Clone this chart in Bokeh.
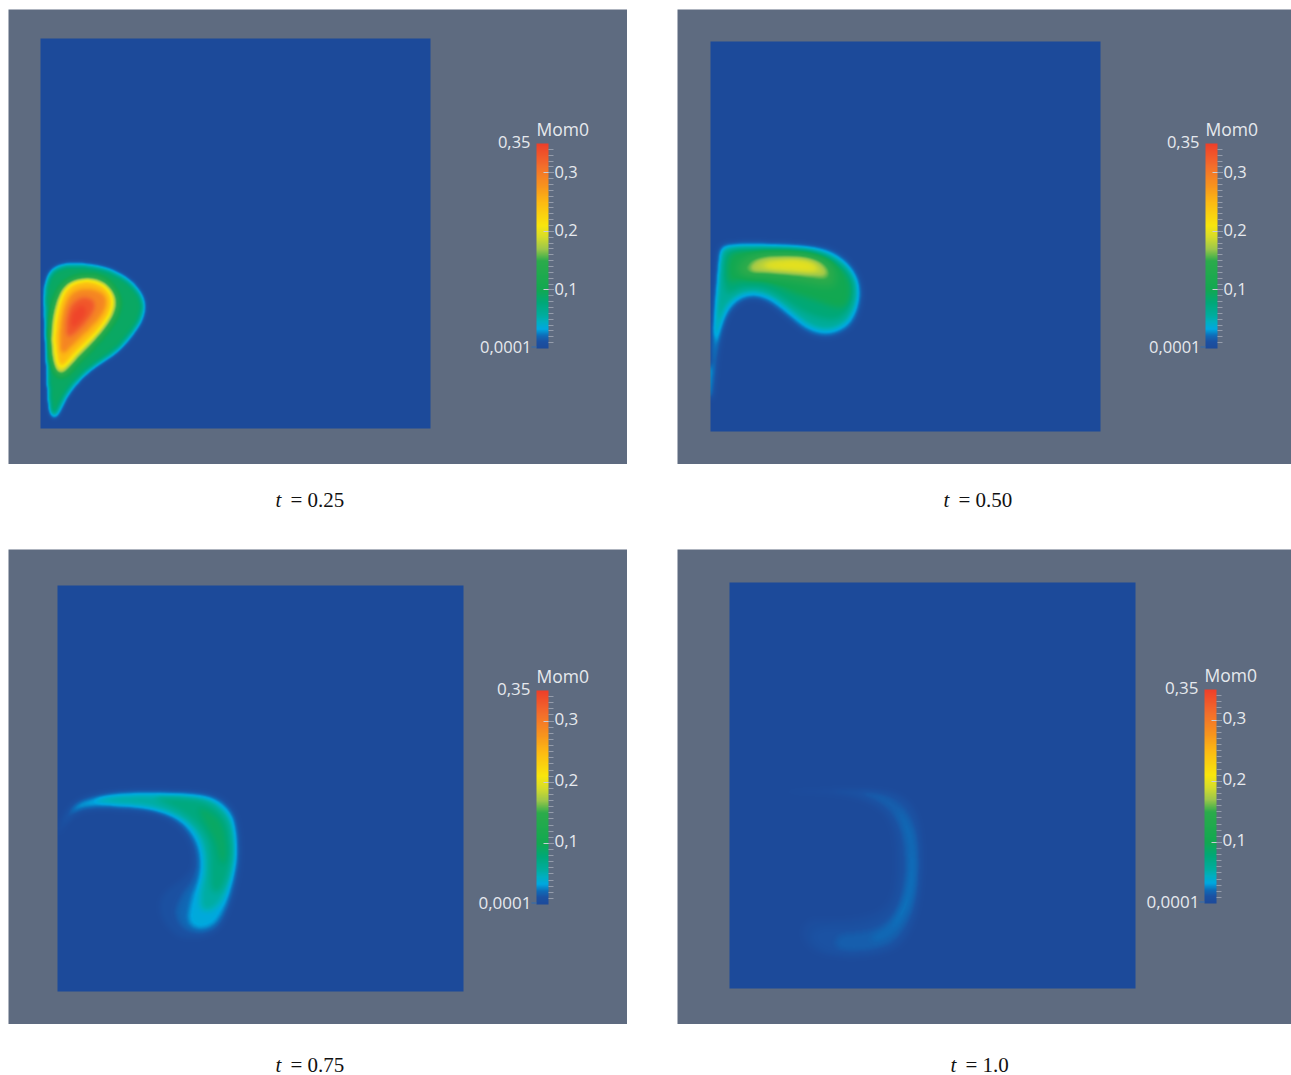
import numpy as np
from bokeh.embed import file_html
from bokeh.resources import INLINE
from bokeh.layouts import column, row
from bokeh.models import BoxAnnotation, ColorBar, FixedTicker, Label, LinearColorMapper, Range1d, Spacer
from bokeh.plotting import figure

# ---------- data ----------
TIMES = ["0.25", "0.50", "0.75", "1.0"]
TITLE = "Mom0"
VMIN, VMAX = 0.0001, 0.35
MAJOR = [0.1, 0.2, 0.3]
MAJOR_LABELS = ["0,1", "0,2", "0,3"]
MIN_LABEL, MAX_LABEL = "0,0001", "0,35"

COLOR_VALUES = [0, .012, .022, .033, .045, .056, .078, .10, .15, .17, .19, .21, .25, .277, .31, .35]
COLOR_STOPS = ["#1c4a9a", "#1b52a3", "#0f6cb8", "#00a8e0", "#00afc0", "#00ad9f", "#00a878", "#12a851",
               "#2cab4b", "#9cc74a", "#d5dc2b", "#f8e60c", "#fdb913", "#f7941d", "#f36f2b", "#ee3f2a"]

# Isolines of Mom0: levels, outlines in digitiser units,
# and the calibration (x of wall, y of floor, units per side of the unit square).
P1_CAL = (30, 537, 1172)
P1_LEVELS = [.04, .09, .15, .20, .25, .29, .33, .345]
P1_ISO = [
 [(38,130),(42,100),(55,62),(85,42),(130,37),(190,42),(250,57),(302,88),(338,130),(349,170),(338,217),(303,267),(262,312),(192,357),(152,392),(112,442),(87,497),(70,511),(56,497),(50,430),(45,300),(40,200)],
 [(46,130),(50,105),(62,72),(90,53),(130,48),(190,53),(245,68),(295,98),(327,135),(338,170),(327,212),(293,260),(255,303),(185,348),(143,383),(103,433),(80,485),(70,495),(62,485),(56,430),(51,300),(47,200)],
 [(170,72),(228,86),(270,140),(263,198),(214,266),(152,328),(92,395),(60,348),(52,260),(64,162),(98,92)],
 [(170,84),(220,97),(256,140),(250,192),(204,256),(144,316),(90,378),(70,342),(62,260),(75,168),(106,100)],
 [(168,92),(220,108),(245,145),(238,190),(195,250),(135,305),(92,358),(80,325),(74,255),(86,170),(112,110)],
 [(165,115),(215,128),(230,155),(215,195),(170,245),(125,285),(92,320),(88,265),(98,185),(120,132)],
 [(155,140),(190,150),(195,175),(170,215),(130,255),(108,265),(108,210),(120,165)],
 [(150,165),(170,175),(160,205),(130,235),(120,225),(125,190)],
]

P2_CAL = (30, 603, 1170)
P2_LEVELS = [.03, .06, .08, .10, .125, .15, .18, .20]
P2_ISO = [
 [(56,56),(65,42),(100,37),(200,37),(300,42),(362,49),(413,67),(453,103),(476,140),(484,180),(479,232),(459,279),(428,306),(390,319),(345,316),(308,299),(268,266),(223,229),(190,209),(155,202),(120,212),(92,239),(72,279),(57,334),(47,404),(38,490),(31,530),(31,400),(35,320),(42,220),(50,120)],
 [(62,62),(72,52),(100,48),(200,48),(300,52),(355,60),(402,78),(442,112),(463,145),(470,180),(465,225),(446,265),(418,288),(388,298),(350,295),(318,280),(278,248),(232,210),(195,190),(155,182),(115,192),(82,220),(62,262),(50,310),(45,350),(42,300),(46,220),(56,120)],
 [(80,55),(200,55),(300,58),(352,68),(402,88),(442,122),(460,170),(452,222),(425,262),(388,268),(345,258),(305,240),(260,212),(210,178),(155,168),(110,175),(80,195),(68,150),(70,90)],
 [(100,60),(200,60),(300,62),(350,75),(400,95),(440,130),(455,175),(445,220),(420,235),(385,225),(340,208),(295,195),(240,170),(190,150),(150,145),(110,150),(88,160),(78,130),(84,80)],
 [(100,115),(120,82),(185,62),(270,60),(350,68),(395,92),(415,135),(405,180),(330,168),(270,155),(200,148),(130,145)],
 [(115,125),(130,88),(185,70),(270,66),(345,75),(385,98),(402,138),(385,165),(320,150),(270,142),(200,135),(140,135)],
 [(145,110),(175,80),(270,75),(340,84),(375,108),(385,140),(330,135),(260,130),(190,125),(150,125)],
 [(185,100),(270,85),(335,95),(355,120),(330,125),(270,120),(195,115)],
]

P3_CAL = (21, 636, 1220)
P3_LEVELS = [.01, .02, .035, .055, .075, .09]
P3_ISO = [
 [(25,140),(35,115),(60,72),(110,46),(200,31),(300,29),(440,32),(508,46),(550,83),(568,130),(575,230),(560,330),(532,405),(505,455),(450,478),(390,478),(345,440),(322,385),(340,335),(395,300),(425,270),(430,225),(410,170),(365,125),(300,100),(200,92),(110,92),(70,109),(45,134),(25,170)],
 [(35,130),(65,80),(115,52),(200,37),(300,35),(440,39),(503,52),(545,88),(562,135),(568,230),(552,325),(530,400),(500,450),(450,465),(395,450),(370,400),(395,340),(430,300),(442,240),(425,175),(375,118),(300,92),(200,84),(110,84),(70,98),(45,127)],
 [(55,100),(75,72),(120,55),(200,42),(300,39),(440,43),(498,57),(540,93),(556,140),(562,230),(545,320),(522,390),(490,440),(440,450),(410,425),(425,350),(447,300),(452,240),(435,175),(385,115),(300,86),(200,78),(120,78),(80,88)],
 [(115,63),(200,47),(300,44),(440,49),(493,65),(533,103),(549,145),(555,230),(538,310),(512,370),(480,395),(450,390),(450,335),(463,285),(465,235),(450,170),(400,115),(300,80),(200,72)],
 [(300,50),(440,57),(488,77),(525,113),(540,150),(545,230),(530,295),(510,335),(485,340),(478,285),(482,230),(470,170),(420,110),(350,72)],
 [(440,78),(493,103),(520,140),(530,200),(527,255),(507,245),(497,185),(460,125)],
]

P4_CAL = (-33, 642, 1219)
P4_LEVELS = [.006, .012, .017, .021, .024]
P4_ISO = [
 [(100,52),(250,42),(380,40),(470,50),(525,90),(550,180),(550,320),(532,430),(492,515),(420,545),(320,555),(220,538),(178,490),(195,430),(280,435),(370,425),(430,400),(458,350),(465,260),(458,170),(425,110),(350,72),(250,58)],
 [(250,45),(380,44),(465,56),(518,100),(543,180),(543,320),(525,425),(482,505),(420,535),(320,545),(240,530),(205,490),(230,455),(300,458),(380,450),(445,418),(475,350),(482,260),(472,165),(432,98),(350,62)],
 [(340,48),(400,50),(458,70),(508,118),(535,190),(537,320),(520,415),(472,495),(420,522),(340,532),(280,522),(290,480),(340,476),(400,468),(455,435),(490,360),(497,260),(484,165),(438,90)],
 [(465,88),(505,140),(528,200),(530,320),(510,412),(462,482),(405,505),(385,490),(438,456),(478,400),(500,320),(505,240),(490,160)],
 [(510,200),(525,300),(508,385),(478,445),(450,465),(475,410),(500,345),(508,280)],
]

# ---------- styling / layout ----------
GREY = "#5e6b80"
TEXT = "#e6e9ee"
SANS = "Open Sans"
SERIF = "Liberation Serif"


def hex_rgb(c):
    return [int(c[i:i + 2], 16) for i in (1, 3, 5)]


def make_palette(n=512):
    rgb = np.array([hex_rgb(c) for c in COLOR_STOPS], float)
    v = np.linspace(VMIN, VMAX, n)
    out = np.stack([np.interp(v, COLOR_VALUES, rgb[:, k]) for k in range(3)], axis=1)
    return ["#%02x%02x%02x" % tuple(int(round(x)) for x in c) for c in out]


PALETTE = make_palette()


def chaikin(pts, times=3):
    p = np.array(pts, float)
    for _ in range(times):
        q = np.roll(p, -1, axis=0)
        p = np.stack([0.75 * p + 0.25 * q, 0.25 * p + 0.75 * q], axis=1).reshape(-1, 2)
    return p


def fill_mask(pts, n):
    m = np.zeros((n, n), bool)
    x0, y0 = pts[:, 0], pts[:, 1]
    x1, y1 = np.roll(x0, -1), np.roll(y0, -1)
    for j in range(n):
        yc = (j + 0.5) / n
        hit = (y0 <= yc) != (y1 <= yc)
        if not hit.any():
            continue
        xi = np.sort(x0[hit] + (yc - y0[hit]) / (y1[hit] - y0[hit]) * (x1[hit] - x0[hit]))
        for a, b in zip(xi[0::2], xi[1::2]):
            m[j, max(0, int(np.ceil(a * n - 0.5))):max(0, int(np.ceil(b * n - 0.5)))] = True
    return m


def blur(a, sigma):
    r = int(3 * sigma) + 1
    k = np.exp(-0.5 * (np.arange(-r, r + 1) / sigma) ** 2)
    k /= k.sum()
    f = lambda v: np.convolve(np.pad(v, r, mode="edge"), k, "valid")
    return np.apply_along_axis(f, 0, np.apply_along_axis(f, 1, a))


def field(iso, levels, cal, n, sigma):
    """Shade the unit square (row 0 at the bottom) from the digitised isolines."""
    x0, y0, span = cal
    a = np.zeros((n, n))
    prev = 0.0
    for poly, lv in zip(iso, levels):
        p = chaikin(poly)
        p = np.column_stack([(p[:, 0] - x0) / span, (y0 - p[:, 1]) / span])
        a += (lv - prev) * fill_mask(p, n)
        prev = lv
    return blur(a, sigma).astype(np.float32)


def panel(iso, levels, cal, sigma, W, H, sq, bar, fs, label_up):
    left, top, size = sq
    bx, btop, bh = bar
    p = figure(width=W, height=H, output_backend="svg", toolbar_location=None,
               x_axis_location=None, y_axis_location=None, min_border=0,
               x_range=Range1d(-left / size, (W - left) / size),
               y_range=Range1d((top + size - H) / size, (top + size) / size),
               background_fill_color=GREY, border_fill_color=GREY, outline_line_color=None)
    p.grid.visible = False
    mapper = LinearColorMapper(palette=PALETTE, low=VMIN, high=VMAX)
    p.image(image=[field(iso, levels, cal, size, sigma)], x=0, y=0, dw=1, dh=1, color_mapper=mapper)
    minor = [round(0.01 * i, 2) for i in range(1, 35)]
    cb = ColorBar(color_mapper=mapper, width=12, height=bh, location=(bx, H - btop - bh),
                  padding=0, margin=0, background_fill_color=None, border_line_color=None, bar_line_color=None,
                  ticker=FixedTicker(ticks=MAJOR, minor_ticks=minor),
                  major_label_overrides={v: "" for v in MAJOR},
                  major_label_text_font_size="1px", label_standoff=0,
                  major_tick_in=5, major_tick_out=5, major_tick_line_color="#c9ced6",
                  minor_tick_in=0, minor_tick_out=5, minor_tick_line_color="#949cab")
    p.add_layout(cb, "center")
    common = dict(x_units="screen", y_units="screen", text_baseline="middle", text_color=TEXT, text_font=SANS)
    for v, txt in zip(MAJOR, MAJOR_LABELS):
        yy = H - btop - bh + bh * (v - VMIN) / (VMAX - VMIN) + label_up
        p.add_layout(Label(x=bx + 18, y=yy, text=txt, text_font_size=f"{fs}px", **common))
    p.add_layout(Label(x=bx, y=H - btop + 14.5, text=TITLE, text_font_size="17.5px", **common))
    p.add_layout(Label(x=bx - 6, y=H - btop + 2, text=MAX_LABEL, text_align="right", text_font_size=f"{fs}px", **common))
    p.add_layout(Label(x=bx - 5, y=H - btop - bh + 2, text=MIN_LABEL, text_align="right", text_font_size=f"{fs}px", **common))
    p.add_layout(BoxAnnotation(left=bx - 5, right=bx, top=H - btop - bh + 2, bottom=H - btop - bh + 1,
                               left_units="screen", right_units="screen", top_units="screen", bottom_units="screen",
                               fill_color="#2f6db0", fill_alpha=1, line_color=None))
    return p


def caption(t, W, H, tx, ty):
    p = figure(width=W, height=H, output_backend="svg", toolbar_location=None,
               x_axis_location=None, y_axis_location=None, min_border=0,
               x_range=Range1d(0, W), y_range=Range1d(0, H),
               background_fill_color="white", border_fill_color="white", outline_line_color=None)
    p.grid.visible = False
    p.add_layout(Label(x=tx, y=H - ty, x_units="screen", y_units="screen", text="t", text_baseline="middle",
                       text_font=SERIF, text_font_style="italic", text_font_size="21px", text_color="#111111"))
    p.add_layout(Label(x=tx + 15, y=H - ty, x_units="screen", y_units="screen", text="= " + t, text_baseline="middle",
                       text_font=SERIF, text_font_size="21px", text_color="#111111"))
    return p


WL, WR, GAP = 619, 614, 50
p1 = panel(P1_ISO, P1_LEVELS, P1_CAL, 2.2, WL, 455, (32, 29, 390), (528, 134, 205), 16.5, 1)
p2 = panel(P2_ISO, P2_LEVELS, P2_CAL, 3.2, WR, 455, (33, 32, 390), (528, 134, 205), 16.5, 1)
p3 = panel(P3_ISO, P3_LEVELS, P3_CAL, 3.0, WL, 475, (49, 36, 406), (528, 141, 214), 17, 2)
p4 = panel(P4_ISO, P4_LEVELS, P4_CAL, 3.0, WR, 475, (52, 33, 406), (527, 140, 214), 17, 2)

c1 = caption(TIMES[0], WL, 85, 267, 35)
c2 = caption(TIMES[1], WR, 85, 266, 35)
c3 = caption(TIMES[2], WL, 51, 267, 40)
c4 = caption(TIMES[3], WR, 51, 273, 40)

body = column(Spacer(height=9, width=WL + GAP + WR),
              row(p1, Spacer(width=GAP), p2),
              row(c1, Spacer(width=GAP), c2),
              row(p3, Spacer(width=GAP), p4),
              row(c3, Spacer(width=GAP), c4))
layout = row(Spacer(width=8), body)
open("out.html", "w").write(file_html(layout, INLINE))
